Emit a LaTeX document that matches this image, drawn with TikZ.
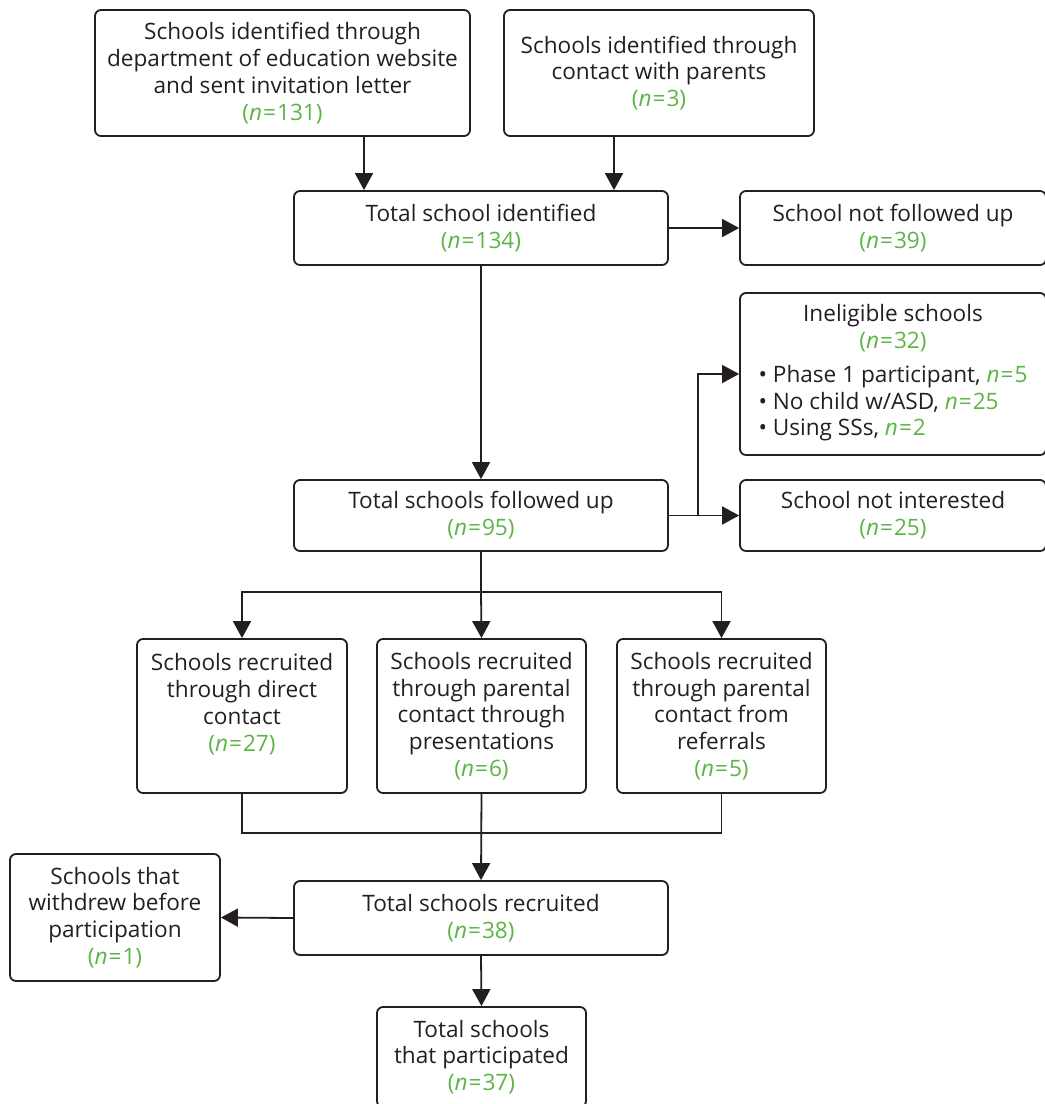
\documentclass[tikz,border=0pt]{standalone}
\usepackage{fontspec}
\setmainfont{Open Sans}
\usetikzlibrary{arrows.meta}
\definecolor{ngreen}{RGB}{92,180,70}
\definecolor{ink}{RGB}{35,31,32}
\newcommand{\nval}[1]{{\color{ngreen}(\textit{n}\kern1pt=\kern1pt#1)}}
\newcommand{\nin}[1]{{\color{ngreen}\textit{n}\kern1pt=\kern1pt#1}}

\tikzset{
  box/.style={draw=ink, line width=1.8pt, rounded corners=6pt, align=center,
    text=ink, inner sep=0pt, font=\fontsize{22.6}{26.8}\selectfont},
  arr/.style={draw=ink, line width=1.8pt, -{Triangle[length=17pt,width=18pt]}},
  ln/.style={draw=ink, line width=1.8pt}
}

\begin{document}
\begin{tikzpicture}[x=1pt, y=-1pt]
        \useasboundingbox (0,0) rectangle (1045,1104);

        % sources
        \node[box, minimum width=375, minimum height=126] at (282.5,73) (web)
          {Schools identified through\\department of education website\\and sent invitation letter\\\nval{131}};
        \node[box, minimum width=310, minimum height=126] at (659,73) (par)
          {Schools identified through\\contact with parents\\\nval{3}};

        % identified
        \node[box, minimum width=374, minimum height=74] at (481,228) (tid)
          {Total school identified\\\nval{134}};
        \node[box, minimum width=306, minimum height=74] at (893,228) (nfu)
          {School not followed up\\\nval{39}};

        % followed up
        \node[box, minimum width=306, minimum height=162] at (893,374) (inel)
          {Ineligible schools\\\nval{32}\\[11pt]
           \begin{tabular}{@{}l@{}}
           \textbullet\ Phase 1 participant, \nin{5}\\
           \textbullet\ No child w/ASD, \nin{25}\\
           \textbullet\ Using SSs, \nin{2}
           \end{tabular}};
        \node[box, minimum width=374, minimum height=71] at (481,515.5) (tfu)
          {Total schools followed up\\\nval{95}};
        \node[box, minimum width=306, minimum height=71] at (893,515.5) (nint)
          {School not interested\\\nval{25}};

        % recruitment routes
        \node[box, minimum width=210, minimum height=154] at (242,716) (rdir)
          {Schools recruited\\through direct\\contact\\\nval{27}\\~};
        \node[box, minimum width=209, minimum height=154] at (481.5,716) (rpre)
          {Schools recruited\\through parental\\contact through\\presentations\\\nval{6}};
        \node[box, minimum width=209, minimum height=154] at (721.5,716) (rref)
          {Schools recruited\\through parental\\contact from\\referrals\\\nval{5}};

        % recruited
        \node[box, minimum width=374, minimum height=74] at (481,918) (rec)
          {Total schools recruited\\\nval{38}};
        \node[box, minimum width=210, minimum height=127] at (115,917.5) (wd)
          {Schools that\\withdrew before\\participation\\\nval{1}};
        \node[box, minimum width=209, minimum height=100] at (481.5,1057) (tsp)
          {Total schools\\that participated\\\nval{37}};

        % connectors
        \coordinate (cw) at (364,0);
        \coordinate (cp) at (614,0);
        \draw[arr] (web.south -| cw) -- (tid.north -| cw);
        \draw[arr] (par.south -| cp) -- (tid.north -| cp);
        \draw[arr] (tid.east) -- (nfu.west);
        \draw[arr] (tid.south) -- (tfu.north);

        \draw[arr] (tfu.east) -- (nint.west);
        \coordinate (br) at (698,515.5);
        \draw[arr] (br) |- (inel.west);

        \draw[ln] (tfu.south) -- ++(0,40) coordinate (split);
        \draw[arr] (split) -| (rdir.north);
        \draw[arr] (split) -| (rref.north);
        \draw[arr] (split) -- (rpre.north);

        \draw[ln] (rdir.south) -- ++(0,39) -| (rref.south);
        \draw[arr] (rpre.south) -- (rec.north);

        \draw[arr] (rec.west) -- (wd.east);
        \draw[arr] (rec.south) -- (tsp.north);
    \end{tikzpicture}
\end{document}
